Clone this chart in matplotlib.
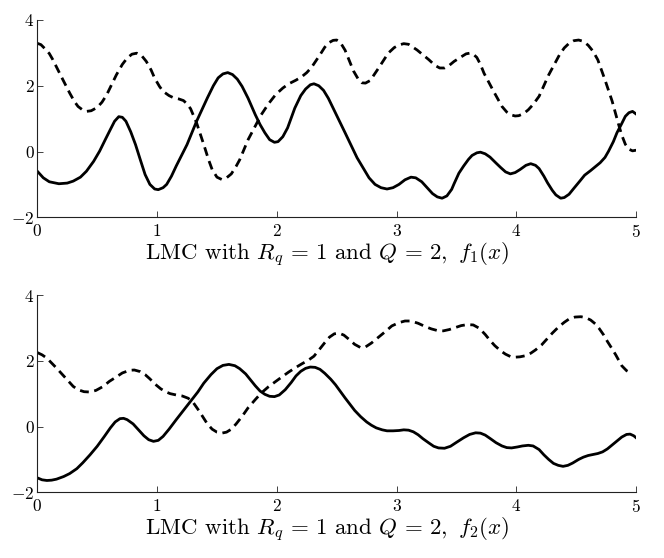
import matplotlib
matplotlib.use("Agg")
import matplotlib.pyplot as plt

plt.rcParams['font.family'] = 'serif'
plt.rcParams['font.serif'] = ['cmr10', 'DejaVu Serif']
plt.rcParams['mathtext.fontset'] = 'cm'
plt.rcParams['axes.formatter.use_mathtext'] = True

# ---- f1 panel: solid curve ----
f1_solid_x = [0.00, 0.05, 0.10, 0.18, 0.25, 0.30, 0.36, 0.41, 0.47, 0.52, 0.57, 0.61, 0.645, 0.68,
              0.71, 0.74, 0.78, 0.82, 0.86, 0.90, 0.94, 0.98, 1.01, 1.05, 1.08, 1.12, 1.16, 1.25,
              1.33, 1.42, 1.47, 1.51, 1.55, 1.59, 1.63, 1.67, 1.71, 1.76, 1.82, 1.86, 1.90, 1.94,
              1.98, 2.01, 2.05, 2.09, 2.15, 2.20, 2.24, 2.28, 2.31, 2.35, 2.39, 2.43, 2.47, 2.57,
              2.67, 2.77, 2.82, 2.87, 2.92, 2.97, 3.02, 3.07, 3.12, 3.16, 3.21, 3.26, 3.30, 3.34,
              3.38, 3.42, 3.46, 3.48, 3.52, 3.56, 3.60, 3.63, 3.67, 3.70, 3.74, 3.78, 3.83, 3.87,
              3.91, 3.95, 3.99, 4.03, 4.08, 4.12, 4.16, 4.19, 4.23, 4.26, 4.30, 4.33, 4.37, 4.40,
              4.44, 4.48, 4.53, 4.57, 4.62, 4.66, 4.70, 4.74, 4.77, 4.81, 4.84, 4.88, 4.91, 4.94,
              4.97, 5.00]
f1_solid_y = [-0.60, -0.80, -0.92, -0.98, -0.96, -0.90, -0.78, -0.60, -0.30, 0.01, 0.38, 0.67, 0.92, 1.06,
              1.04, 0.92, 0.60, 0.21, -0.25, -0.70, -1.00, -1.14, -1.16, -1.10, -1.00, -0.75, -0.44, 0.21,
              0.92, 1.63, 2.00, 2.24, 2.36, 2.40, 2.34, 2.20, 1.98, 1.62, 1.12, 0.82, 0.57, 0.36,
              0.28, 0.30, 0.45, 0.72, 1.32, 1.70, 1.90, 2.03, 2.06, 2.00, 1.86, 1.62, 1.32, 0.57,
              -0.19, -0.80, -1.00, -1.10, -1.14, -1.10, -1.00, -0.86, -0.78, -0.80, -0.92, -1.12, -1.28, -1.38,
              -1.42, -1.35, -1.15, -0.98, -0.66, -0.44, -0.24, -0.12, -0.04, -0.02, -0.07, -0.17, -0.35, -0.49,
              -0.62, -0.68, -0.64, -0.55, -0.42, -0.37, -0.42, -0.52, -0.75, -0.95, -1.18, -1.32, -1.42, -1.40,
              -1.30, -1.12, -0.90, -0.72, -0.58, -0.46, -0.34, -0.18, 0.01, 0.30, 0.57, 0.85, 1.07, 1.18,
              1.22, 1.14]

# ---- f1 panel: dashed curve ----
f1_dash_x = [0.00, 0.03, 0.06, 0.10, 0.13, 0.20, 0.27, 0.31, 0.34, 0.38, 0.41, 0.45, 0.50, 0.54,
             0.58, 0.66, 0.71, 0.75, 0.79, 0.83, 0.87, 0.91, 0.95, 0.98, 1.02, 1.05, 1.10, 1.14,
             1.18, 1.22, 1.25, 1.28, 1.33, 1.39, 1.43, 1.46, 1.50, 1.54, 1.58, 1.62, 1.66, 1.69,
             1.76, 1.87, 1.93, 1.99, 2.05, 2.10, 2.16, 2.21, 2.25, 2.29, 2.36, 2.40, 2.43, 2.47,
             2.50, 2.53, 2.57, 2.61, 2.64, 2.68, 2.71, 2.74, 2.78, 2.85, 2.93, 2.98, 3.02, 3.06,
             3.10, 3.17, 3.27, 3.32, 3.36, 3.40, 3.44, 3.48, 3.54, 3.58, 3.61, 3.64, 3.67, 3.70,
             3.73, 3.81, 3.88, 3.92, 3.95, 3.99, 4.02, 4.06, 4.10, 4.14, 4.19, 4.27, 4.36, 4.40,
             4.44, 4.48, 4.52, 4.56, 4.60, 4.64, 4.68, 4.74, 4.80, 4.85, 4.88, 4.91, 4.94, 4.97,
             5.00]
f1_dash_y = [3.29, 3.25, 3.14, 2.98, 2.79, 2.28, 1.78, 1.52, 1.37, 1.26, 1.22, 1.24, 1.34, 1.50,
             1.73, 2.33, 2.65, 2.84, 2.96, 2.99, 2.92, 2.74, 2.48, 2.23, 1.98, 1.83, 1.70, 1.63,
             1.60, 1.55, 1.45, 1.30, 0.87, 0.21, -0.25, -0.55, -0.78, -0.85, -0.80, -0.68, -0.45, -0.25,
             0.36, 1.12, 1.45, 1.73, 1.93, 2.06, 2.17, 2.28, 2.40, 2.56, 2.94, 3.17, 3.30, 3.38,
             3.39, 3.32, 3.08, 2.72, 2.45, 2.20, 2.09, 2.08, 2.16, 2.54, 2.99, 3.16, 3.24, 3.28,
             3.26, 3.09, 2.79, 2.62, 2.54, 2.54, 2.62, 2.74, 2.88, 2.97, 2.99, 2.96, 2.86, 2.65,
             2.38, 1.83, 1.37, 1.20, 1.12, 1.08, 1.09, 1.15, 1.27, 1.43, 1.68, 2.33, 2.94, 3.15,
             3.29, 3.37, 3.39, 3.35, 3.23, 3.05, 2.79, 2.18, 1.53, 0.87, 0.50, 0.22, 0.07, 0.02,
             0.04]

# ---- f2 panel: solid curve ----
f2_solid_x = [0.00, 0.04, 0.08, 0.12, 0.16, 0.22, 0.27, 0.33, 0.38, 0.44, 0.50, 0.56, 0.61, 0.65,
              0.69, 0.72, 0.75, 0.80, 0.85, 0.89, 0.93, 0.97, 1.01, 1.05, 1.10, 1.16, 1.22, 1.28,
              1.34, 1.39, 1.45, 1.50, 1.55, 1.60, 1.65, 1.69, 1.74, 1.78, 1.82, 1.86, 1.90, 1.94,
              1.98, 2.02, 2.07, 2.12, 2.16, 2.20, 2.24, 2.28, 2.32, 2.36, 2.40, 2.45, 2.49, 2.57,
              2.65, 2.70, 2.75, 2.79, 2.83, 2.88, 2.92, 2.97, 3.02, 3.06, 3.10, 3.14, 3.18, 3.22,
              3.27, 3.31, 3.35, 3.40, 3.45, 3.50, 3.56, 3.61, 3.66, 3.70, 3.74, 3.78, 3.83, 3.88,
              3.92, 3.96, 4.01, 4.05, 4.10, 4.14, 4.19, 4.23, 4.27, 4.31, 4.35, 4.39, 4.43, 4.47,
              4.52, 4.56, 4.60, 4.64, 4.68, 4.72, 4.76, 4.80, 4.84, 4.88, 4.92, 4.95, 4.98, 5.00]
f2_solid_y = [-1.56, -1.62, -1.64, -1.63, -1.60, -1.52, -1.43, -1.28, -1.10, -0.86, -0.60, -0.30, -0.04, 0.14,
              0.24, 0.25, 0.21, 0.08, -0.12, -0.28, -0.40, -0.45, -0.42, -0.30, -0.08, 0.21, 0.49, 0.77,
              1.05, 1.32, 1.58, 1.76, 1.86, 1.89, 1.85, 1.76, 1.60, 1.42, 1.24, 1.08, 0.98, 0.92,
              0.91, 0.96, 1.12, 1.34, 1.54, 1.68, 1.77, 1.81, 1.80, 1.74, 1.62, 1.44, 1.27, 0.87,
              0.49, 0.30, 0.14, 0.04, -0.04, -0.10, -0.13, -0.13, -0.12, -0.10, -0.11, -0.16, -0.25, -0.37,
              -0.50, -0.60, -0.65, -0.66, -0.60, -0.48, -0.34, -0.24, -0.19, -0.20, -0.26, -0.36, -0.49, -0.59,
              -0.64, -0.65, -0.62, -0.59, -0.57, -0.59, -0.70, -0.86, -1.00, -1.12, -1.18, -1.21, -1.18, -1.11,
              -1.00, -0.93, -0.88, -0.85, -0.82, -0.77, -0.68, -0.56, -0.44, -0.32, -0.24, -0.23, -0.28, -0.34]

# ---- f2 panel: dashed curve ----
f2_dash_x = [0.00, 0.04, 0.08, 0.16, 0.25, 0.30, 0.34, 0.39, 0.44, 0.49, 0.55, 0.60, 0.66, 0.71,
             0.77, 0.81, 0.86, 0.90, 0.94, 0.98, 1.03, 1.07, 1.11, 1.16, 1.21, 1.26, 1.30, 1.35,
             1.39, 1.42, 1.46, 1.50, 1.54, 1.58, 1.62, 1.66, 1.71, 1.76, 1.82, 1.87, 1.93, 1.99,
             2.05, 2.10, 2.16, 2.21, 2.26, 2.31, 2.35, 2.40, 2.44, 2.48, 2.52, 2.56, 2.60, 2.65,
             2.70, 2.74, 2.79, 2.85, 2.91, 2.96, 3.02, 3.07, 3.12, 3.18, 3.24, 3.29, 3.34, 3.39,
             3.44, 3.49, 3.54, 3.59, 3.64, 3.69, 3.74, 3.78, 3.82, 3.87, 3.91, 3.95, 3.99, 4.03,
             4.07, 4.12, 4.16, 4.21, 4.25, 4.30, 4.35, 4.40, 4.44, 4.49, 4.54, 4.58, 4.62, 4.66,
             4.69, 4.73, 4.76, 4.80, 4.83, 4.88, 4.92, 4.96]
f2_dash_y = [2.25, 2.18, 2.08, 1.78, 1.42, 1.22, 1.12, 1.06, 1.05, 1.10, 1.22, 1.37, 1.51, 1.63,
             1.71, 1.72, 1.67, 1.58, 1.45, 1.30, 1.15, 1.06, 1.00, 0.96, 0.93, 0.86, 0.74, 0.48,
             0.25, 0.08, -0.08, -0.17, -0.20, -0.17, -0.08, 0.08, 0.31, 0.57, 0.82, 1.02, 1.21, 1.37,
             1.53, 1.66, 1.80, 1.91, 2.01, 2.14, 2.32, 2.55, 2.72, 2.82, 2.84, 2.78, 2.66, 2.50,
             2.40, 2.42, 2.54, 2.72, 2.90, 3.06, 3.16, 3.21, 3.21, 3.14, 3.04, 2.97, 2.92, 2.91,
             2.95, 3.01, 3.07, 3.10, 3.09, 2.99, 2.80, 2.62, 2.46, 2.30, 2.20, 2.13, 2.11, 2.12,
             2.15, 2.23, 2.33, 2.48, 2.64, 2.84, 3.02, 3.17, 3.27, 3.33, 3.34, 3.31, 3.24, 3.12,
             2.99, 2.78, 2.59, 2.36, 2.18, 1.85, 1.70, 1.62]

x_ticks = [0, 1, 2, 3, 4, 5]
y_ticks = [-2, 0, 2, 4]
labels = [r"LMC with $R_q\, =\, 1$ and $Q\, =\, 2,\ f_1(x)$",
          r"LMC with $R_q\, =\, 1$ and $Q\, =\, 2,\ f_2(x)$"]

fig = plt.figure(figsize=(6.64, 5.58), dpi=100)
ax1 = fig.add_axes([0.0562, 0.6106, 0.9018, 0.3536])
ax2 = fig.add_axes([0.0562, 0.1177, 0.9018, 0.3536])

panels = [(ax1, f1_solid_x, f1_solid_y, f1_dash_x, f1_dash_y, labels[0]),
          (ax2, f2_solid_x, f2_solid_y, f2_dash_x, f2_dash_y, labels[1])]

for ax, sx, sy, dx, dy, lab in panels:
    ax.plot(sx, sy, color='black', lw=2.0, solid_joinstyle='round')
    ax.plot(dx, dy, color='black', lw=2.0, linestyle=(0, (3.2, 2.0)))
    ax.set_xlim(0, 5)
    ax.set_ylim(-2, 4)
    ax.set_xticks(x_ticks)
    ax.set_yticks(y_ticks)
    for s in ['top', 'right']:
        ax.spines[s].set_visible(False)
    for s in ['left', 'bottom']:
        ax.spines[s].set_linewidth(0.8)
        ax.spines[s].set_color('#222222')
    ax.tick_params(direction='in', length=4, width=0.6, labelsize=12.5, pad=4, color='#222222')
    ax.tick_params(axis='y', pad=2)
    ax.set_xlabel(lab, fontsize=16.5)
    ax.xaxis.set_label_coords(0.484, -0.118)

fig.savefig('out.png', dpi=100)
